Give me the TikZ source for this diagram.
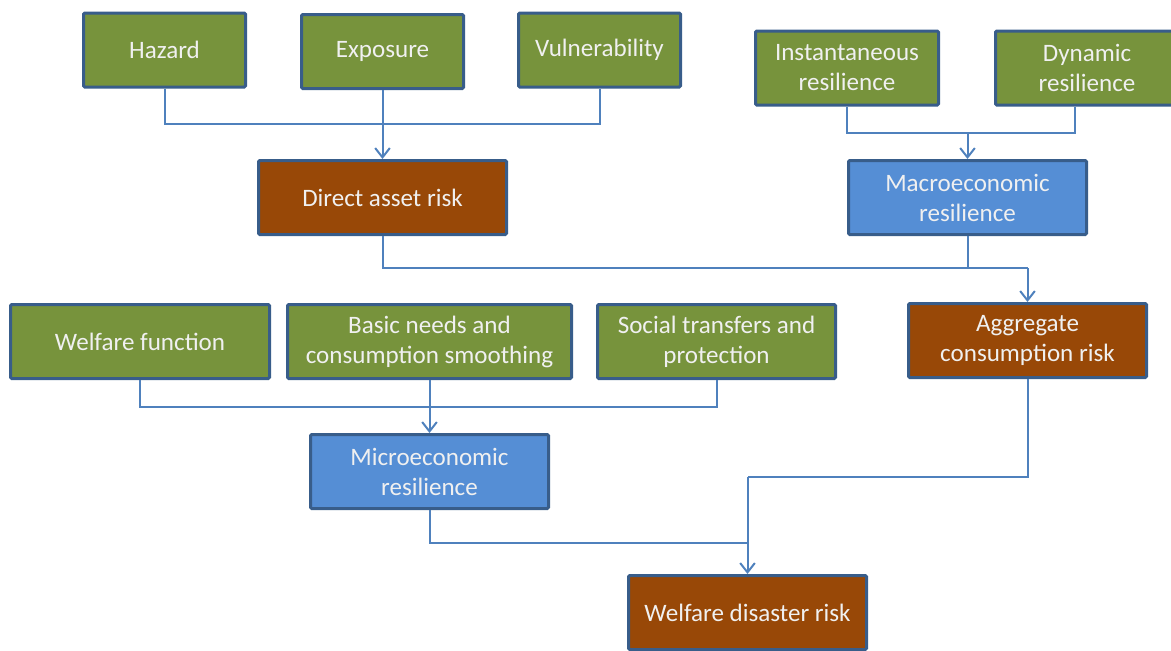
\documentclass[tikz,border=0pt]{standalone}
\usepackage{fontspec}
\setmainfont{Carlito}
\usepackage{tikz}
\usetikzlibrary{arrows.meta}
\definecolor{boxgreen}{RGB}{119,147,60}
\definecolor{boxbrown}{RGB}{152,72,7}
\definecolor{boxblue}{RGB}{85,142,213}
\definecolor{boxedge}{RGB}{56,93,138}
\definecolor{linkblue}{RGB}{79,129,189}
\begin{document}
\begin{tikzpicture}[x=0.75pt,y=0.75pt,yscale=-1,xscale=1,
  box/.style={draw=boxedge,line width=2.25pt,rounded corners=1pt,inner sep=0pt,
    minimum height=55.5pt,align=center,text=white!94!black,
    font=\fontsize{18.8}{22.5}\selectfont},
  greenbox/.style={box,fill=boxgreen},
  brownbox/.style={box,fill=boxbrown},
  bluebox/.style={box,fill=boxblue},
  link/.style={draw=linkblue,line width=1.5pt},
  linkarrow/.style={link,-{Straight Barb[length=7pt,width=11pt,line width=1.5pt]}}]
\useasboundingbox (0,0) rectangle (1171,650);

%Top row: risk components
\node [greenbox,minimum width=121.5pt] (haz) at (164.5,50) {Hazard};
\node [greenbox,minimum width=121.5pt] (exp) at (382.5,51.5) {Exposure};
\node [greenbox,minimum width=121.5pt] (vul) at (599.5,50) {Vulnerability};
\node [greenbox,minimum width=137.25pt] (ins) at (847,68) {Instantaneous\\resilience};
\node [greenbox,minimum width=137.25pt] (dyn) at (1087,68) {Dynamic\\resilience};

%Second row
\node [brownbox,minimum width=186pt] (dar) at (382.5,197.5) {Direct asset risk};
\node [bluebox,minimum width=178.5pt] (mac) at (967.5,197.5) {Macroeconomic\\resilience};

%Third row
\node [greenbox,minimum width=194.25pt] (wel) at (140,341.5) {Welfare function};
\node [greenbox,minimum width=213pt] (bas) at (429.5,341.5) {Basic needs and\\consumption smoothing};
\node [greenbox,minimum width=178.5pt] (soc) at (716.5,341.5) {Social transfers and\\protection};
\node [brownbox,minimum width=178.5pt] (agg) at (1027.5,340.5) {Aggregate\\consumption risk};

%Bottom rows
\node [bluebox,minimum width=178.5pt] (mic) at (429.5,471.5) {Microeconomic\\resilience};
\node [brownbox,minimum width=178.5pt] (wdr) at (747.5,612.5) {Welfare disaster risk};

%Junction points
\coordinate (j1) at (382.5,124);
\coordinate (j2) at (967.5,133);
\coordinate (j3) at (1027.5,268);
\coordinate (j4) at (429.5,407);
\coordinate (j5) at (747.5,477);
\coordinate (j6) at (747.5,543);

%Connectors
\draw [link] (haz.south) |- (j1) -| (vul.south);
\draw [linkarrow] (exp.south) -- (dar.north);
\draw [link] (ins.south) |- (j2) -| ([xshift=-9pt]dyn.south);
\draw [linkarrow] (j2) -- (mac.north);
\draw [link] (dar.south) |- (j3);
\draw [link] (mac.south) -- (mac.south |- j3);
\draw [linkarrow] (j3) -- (agg.north);
\draw [link] (wel.south) |- (j4) -| (soc.south);
\draw [linkarrow] (bas.south) -- (mic.north);
\draw [link] (agg.south) |- (j5);
\draw [link] (mic.south) |- (j6);
\draw [linkarrow] (j5) -- (wdr.north);

\end{tikzpicture}
\end{document}
